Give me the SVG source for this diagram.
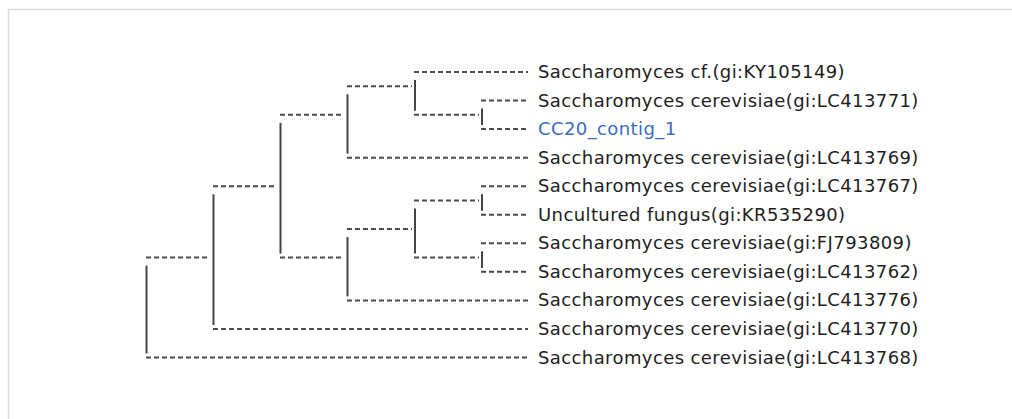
<svg xmlns="http://www.w3.org/2000/svg" width="1012" height="419" viewBox="0 0 1012 419">
  <style>
    .frame { fill: none; stroke: #d9d9d9; stroke-width: 1.5; }
    .branch { stroke: #4a4a4a; stroke-width: 2; stroke-dasharray: 5 3; fill: none; }
    .join { stroke: #444; stroke-width: 2; fill: none; }
    .label { font-family: "DejaVu Sans", Verdana, sans-serif; font-size: 18px; letter-spacing: 0.4px; fill: #1e1e1e; }
    .query { fill: #3b6cc2; }
  </style>
  <rect x="0" y="0" width="1012" height="419" fill="#fff"/>
  <!-- panel frame (top and left edges) -->
  <path class="frame" d="M8.5 419 V9.5 H1012"/>

  <!-- tree connectors: dashed horizontal branches, solid vertical joins -->
  <g id="connectors">
    <!-- branches to leaves -->
    <line class="branch" x1="414" y1="72" x2="528" y2="72"/>
    <line class="branch" x1="481" y1="100.55" x2="528" y2="100.55"/>
    <line class="branch" x1="481" y1="129.1" x2="528" y2="129.1"/>
    <line class="branch" x1="347" y1="157.65" x2="528" y2="157.65"/>
    <line class="branch" x1="481" y1="186.2" x2="528" y2="186.2"/>
    <line class="branch" x1="481" y1="214.75" x2="528" y2="214.75"/>
    <line class="branch" x1="481" y1="243.3" x2="528" y2="243.3"/>
    <line class="branch" x1="481" y1="271.85" x2="528" y2="271.85"/>
    <line class="branch" x1="347" y1="300.4" x2="528" y2="300.4"/>
    <line class="branch" x1="213" y1="328.95" x2="528" y2="328.95"/>
    <line class="branch" x1="146" y1="357.5" x2="528" y2="357.5"/>
    <!-- branches to internal nodes -->
    <line class="branch" x1="414" y1="114.83" x2="479" y2="114.83"/>
    <line class="branch" x1="347" y1="86.28" x2="412" y2="86.28"/>
    <line class="branch" x1="280" y1="114.83" x2="344" y2="114.83"/>
    <line class="branch" x1="414" y1="200.48" x2="479" y2="200.48"/>
    <line class="branch" x1="414" y1="257.58" x2="479" y2="257.58"/>
    <line class="branch" x1="347" y1="229.03" x2="412" y2="229.03"/>
    <line class="branch" x1="280" y1="257.58" x2="344" y2="257.58"/>
    <line class="branch" x1="213" y1="186.2" x2="277" y2="186.2"/>
    <line class="branch" x1="146" y1="257.58" x2="210" y2="257.58"/>
    <!-- vertical joins -->
    <line class="join" x1="482" y1="108.5" x2="482" y2="125"/>
    <line class="join" x1="482" y1="194.2" x2="482" y2="210.8"/>
    <line class="join" x1="482" y1="251.3" x2="482" y2="267.9"/>
    <line class="join" x1="415" y1="80" x2="415" y2="110.8"/>
    <line class="join" x1="415" y1="208.5" x2="415" y2="253.6"/>
    <line class="join" x1="347.5" y1="94.3" x2="347.5" y2="153.7"/>
    <line class="join" x1="347.5" y1="237" x2="347.5" y2="296.4"/>
    <line class="join" x1="280.5" y1="122.8" x2="280.5" y2="253.6"/>
    <line class="join" x1="213.5" y1="194.2" x2="213.5" y2="325"/>
    <line class="join" x1="146.5" y1="265.6" x2="146.5" y2="353.5"/>
  </g>

  <!-- leaf labels -->
  <g id="leaf-KY105149"><text class="label" x="538" y="78">Saccharomyces cf.(gi:KY105149)</text></g>
  <g id="leaf-LC413771"><text class="label" x="538" y="106.55">Saccharomyces cerevisiae(gi:LC413771)</text></g>
  <g id="leaf-CC20"><text class="label query" x="538" y="135.1">CC20_contig_1</text></g>
  <g id="leaf-LC413769"><text class="label" x="538" y="163.65">Saccharomyces cerevisiae(gi:LC413769)</text></g>
  <g id="leaf-LC413767"><text class="label" x="538" y="192.2">Saccharomyces cerevisiae(gi:LC413767)</text></g>
  <g id="leaf-KR535290"><text class="label" x="538" y="220.75">Uncultured fungus(gi:KR535290)</text></g>
  <g id="leaf-FJ793809"><text class="label" x="538" y="249.3">Saccharomyces cerevisiae(gi:FJ793809)</text></g>
  <g id="leaf-LC413762"><text class="label" x="538" y="277.85">Saccharomyces cerevisiae(gi:LC413762)</text></g>
  <g id="leaf-LC413776"><text class="label" x="538" y="306.4">Saccharomyces cerevisiae(gi:LC413776)</text></g>
  <g id="leaf-LC413770"><text class="label" x="538" y="334.95">Saccharomyces cerevisiae(gi:LC413770)</text></g>
  <g id="leaf-LC413768"><text class="label" x="538" y="363.5">Saccharomyces cerevisiae(gi:LC413768)</text></g>
</svg>
